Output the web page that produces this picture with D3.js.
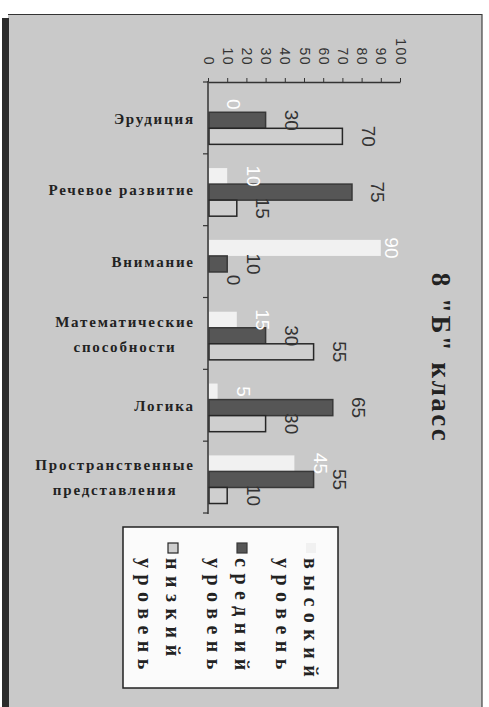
<!DOCTYPE html>
<html><head><meta charset="utf-8">
<script src="https://cdn.jsdelivr.net/npm/d3@7"></script>
<style>body{margin:0;background:#fff}svg{display:block}</style>
</head><body>
<svg id="c" width="489" height="707"></svg>
<script>
const categories = ["Эрудиция","Речевое развитие","Внимание","Математические способности","Логика","Пространственные представления"];
const seriesNames = ["высокий уровень","средний уровень","низкий уровень"];
const highValues = [0,10,90,15,5,45];
const mediumValues = [30,75,10,30,65,55];
const lowValues = [70,15,0,55,30,10];
const tickValues = [0,10,20,30,40,50,60,70,80,90,100];
const title = "8 \"Б\" класс";

const serif = "'Liberation Serif','Times New Roman',serif";
const sans = "'Liberation Sans',Arial,sans-serif";

const svg = d3.select("#c");
// frame
svg.append("rect").attr("x",8).attr("y",14).attr("width",474).attr("height",693).attr("fill","#c9c9c9");
svg.append("line").attr("x1",8).attr("x2",482).attr("y1",14.5).attr("y2",14.5).attr("stroke","#333").attr("stroke-width",1.2);
svg.append("line").attr("x1",482).attr("x2",482).attr("y1",14).attr("y2",707).attr("stroke","#444").attr("stroke-width",1.2);
svg.append("rect").attr("x",2).attr("y",18).attr("width",7).attr("height",689).attr("fill","#2b2b2b");

const x = d3.scaleLinear().domain([0,100]).range([208,400]);
const y = d3.scaleBand().domain(categories).range([82,513]).paddingInner(0.33).paddingOuter(0.165).align(0.6);
const ys = d3.scaleBand().domain(seriesNames).range([0,y.bandwidth()]);

const series = [
  {name:seriesNames[0], values:highValues, fill:"#f1f1f1", stroke:"none", label:"#ffffff"},
  {name:seriesNames[1], values:mediumValues, fill:"#565656", stroke:"#383838", label:"#333333"},
  {name:seriesNames[2], values:lowValues, fill:"#cfcfcf", stroke:"#262626", label:"#333333"}
];

// bars
series.forEach(s=>{
  svg.append("g").selectAll("rect").data(categories).join("rect")
    .attr("x",x(0)+1)
    .attr("y",(c)=>y(c)+ys(s.name))
    .attr("width",(c,i)=>Math.max(0,x(s.values[i])-x(0)-1))
    .attr("height",ys.bandwidth())
    .attr("fill",s.fill)
    .attr("stroke",s.stroke)
    .attr("stroke-width",1.5);
});

// value axis on top
const ax = svg.append("g").attr("transform","translate(0,82)")
  .call(d3.axisTop(x).tickValues(tickValues).tickSize(4).tickSizeOuter(0).tickFormat(d3.format("d")));
ax.select(".domain").attr("stroke","#333").attr("stroke-width",1.3);
ax.selectAll(".tick line").attr("stroke","#333");
ax.selectAll(".tick text")
  .attr("x",0).attr("y",0).attr("dy","0.35em")
  .attr("transform","translate(0,-16) rotate(90)")
  .attr("text-anchor","end")
  .style("font-family",sans).style("font-size","14px").style("letter-spacing","1.5px")
  .attr("fill","#333");

// category axis
svg.append("line").attr("x1",208).attr("x2",208).attr("y1",81).attr("y2",514).attr("stroke","#333").attr("stroke-width",1.5);
const bounds = d3.range(categories.length+1).map(i=>82+i*(431/categories.length));
svg.append("g").selectAll("line").data(bounds).join("line")
  .attr("x1",203).attr("x2",208).attr("y1",d=>d).attr("y2",d=>d).attr("stroke","#333").attr("stroke-width",1.2);

// category labels
categories.forEach(c=>{
  const lines = c.length>18 ? c.split(" ") : [c];
  const cy = y(c)+y.bandwidth()/2 - 2;
  const g = svg.append("g");
  const texts = lines.map((ln,i)=> g.append("text")
      .attr("y", cy + (i-(lines.length-1)/2)*25)
      .attr("dy","0.35em")
      .style("font-family",serif).style("font-weight","bold").style("font-size","15px")
      .style("letter-spacing","1.8px").attr("fill","#222").text(ln));
  const widths = texts.map(t=>t.node().getComputedTextLength()-1.8);
  const maxW = d3.max(widths);
  texts.forEach((t,i)=>{ t.attr("x", 193 - maxW + (maxW-widths[i])/2); });
});

// data labels
series.forEach(s=>{
  svg.append("g").selectAll("text").data(categories).join("text")
    .attr("transform",(c,i)=>{
      const cx = Math.min(x(s.values[i])+26, x(100)-8);
      const cy = y(c)+ys(s.name)+ys.bandwidth()/2;
      return `translate(${cx},${cy}) rotate(90)`;
    })
    .attr("text-anchor","middle").attr("dy","0.35em")
    .style("font-family",sans).style("font-size","19px")
    .attr("fill",s.label)
    .text((c,i)=>s.values[i]);
});

// title
svg.append("text").attr("transform","translate(441,358) rotate(90)")
  .attr("text-anchor","middle").attr("dy","0.35em")
  .style("font-family",serif).style("font-weight","bold").style("font-size","27px")
  .style("letter-spacing","2.5px").attr("fill","#222").text(title);

// legend
svg.append("rect").attr("x",123).attr("y",527).attr("width",215).attr("height",161)
  .attr("fill","#fbfbfb").attr("stroke","#222").attr("stroke-width",1.5);
series.forEach((s,k)=>{
  const lx = 311 - k*69;
  svg.append("rect").attr("x",lx-5).attr("y",543).attr("width",10).attr("height",10)
    .attr("fill",s.fill).attr("stroke",s.stroke==="none"?"none":s.stroke).attr("stroke-width",1.2);
  s.name.split(" ").forEach((w,j)=>{
    svg.append("text").attr("transform",`translate(${lx-j*28},558) rotate(90)`)
      .attr("text-anchor","start").attr("dy","0.35em")
      .style("font-family",serif).style("font-weight","bold").style("font-size","20px")
      .style("letter-spacing","6.5px").attr("fill","#222").text(w);
  });
});
</script>
</body></html>
